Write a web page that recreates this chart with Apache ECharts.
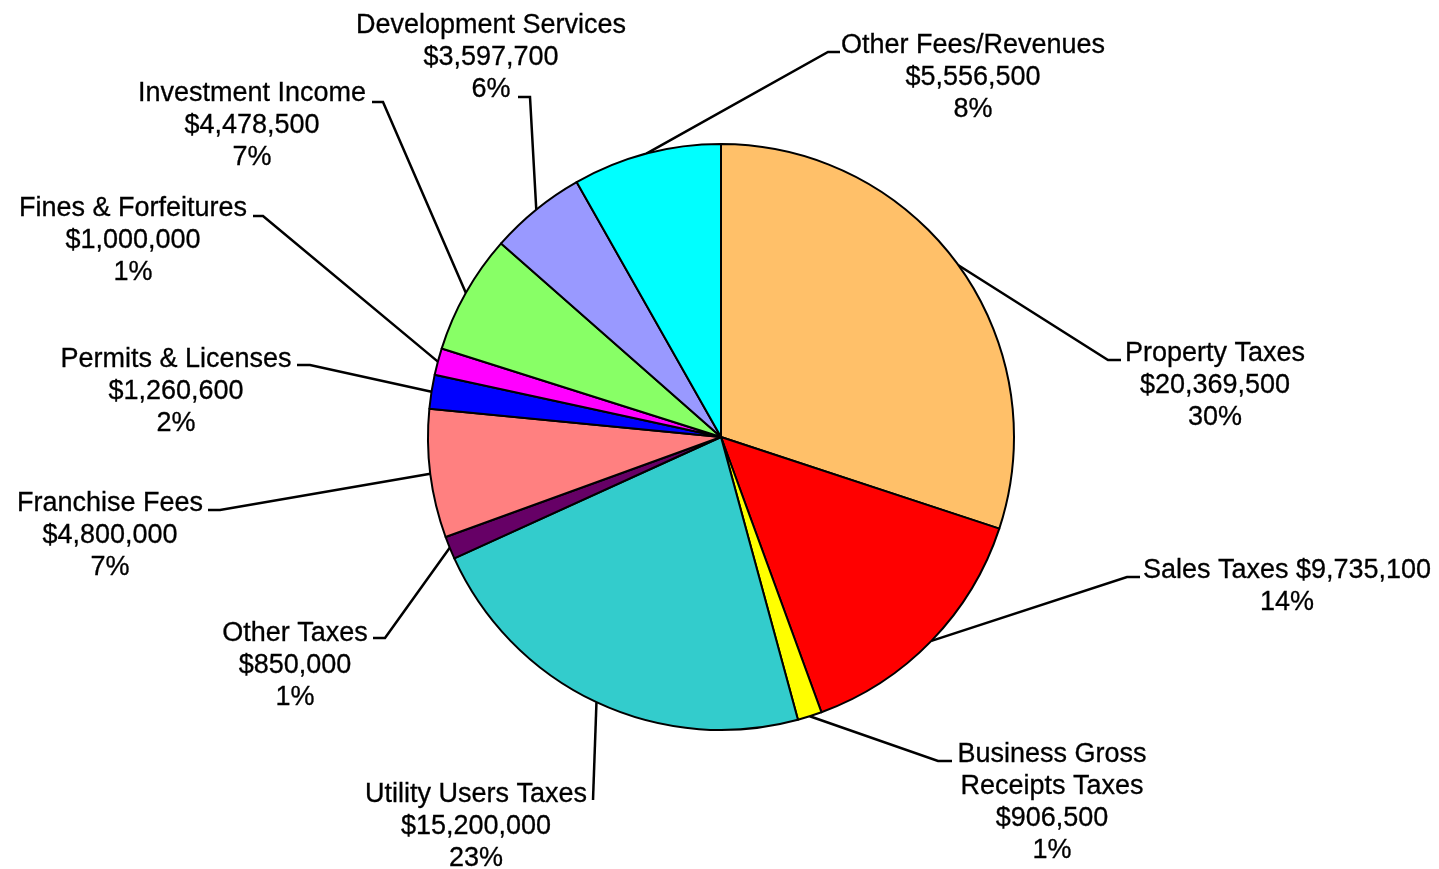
<!DOCTYPE html>
<html>
<head>
<meta charset="utf-8">
<script src="https://cdn.jsdelivr.net/npm/echarts@6/dist/echarts.min.js"></script>
<style>
  html, body { margin: 0; padding: 0; background: #ffffff; }
  #chart { width: 1439px; height: 869px; }
</style>
</head>
<body>
<div id="chart"></div>
<script>
// Revenue sources, clockwise from 12 o'clock
const categories = [
  'Property Taxes',
  'Sales Taxes',
  'Business Gross\nReceipts Taxes',
  'Utility Users Taxes',
  'Other Taxes',
  'Franchise Fees',
  'Permits & Licenses',
  'Fines & Forfeitures',
  'Investment Income',
  'Development Services',
  'Other Fees/Revenues'
];
const amounts = [20369500, 9735100, 906500, 15200000, 850000, 4800000, 1260600, 1000000, 4478500, 3597700, 5556500];
const percentLabels = ['30%', '14%', '1%', '23%', '1%', '7%', '2%', '1%', '7%', '6%', '8%'];

const sliceColors = ['#FFC069', '#FF0000', '#FFFF00', '#33CCCC', '#660066', '#FF8080', '#0000FF', '#FF00FF', '#88FF66', '#9999FF', '#00FFFF'];

// Pie geometry
const PIE_CENTER = [721, 437];
const PIE_RADIUS = 293;

// Label block placement: x = centre of text, y = top of text block,
// (ex, ey) = elbow of the leader line, (ax, ay) = end of the leader line next to the text.
const labelPlacement = [
  { x: 1215, y: 338, ex: 1108, ey: 360, ax: 1121, ay: 360 },
  { x: 1287, y: 555, ex: 1127, ey: 577, ax: 1140, ay: 577, inline: true },
  { x: 1052, y: 739, ex: 938, ey: 761, ax: 952, ay: 761 },
  { x: 476, y: 779, ex: 593, ey: 800, ax: 593, ay: 800 },
  { x: 295, y: 618, ex: 385, ey: 638, ax: 373, ay: 638 },
  { x: 110, y: 488, ex: 220, ey: 510, ax: 208, ay: 510 },
  { x: 176, y: 344, ex: 310, ey: 365, ax: 297, ay: 365 },
  { x: 133, y: 193, ex: 263, ey: 216, ax: 253, ay: 216 },
  { x: 252, y: 78, ex: 383, ey: 102, ax: 372, ay: 102 },
  { x: 491, y: 10, ex: 530, ey: 97, ax: 518, ay: 97 },
  { x: 973, y: 30, ex: 828, ey: 52, ax: 840, ay: 52 }
];

const fmtMoney = v => '$' + v.toLocaleString('en-US');

// Mid-angle of every slice (radians, clockwise from 12 o'clock)
const total = amounts.reduce((a, b) => a + b, 0);
const midAngles = [];
let acc = 0;
amounts.forEach(v => {
  midAngles.push((acc + v / 2) / total * Math.PI * 2);
  acc += v;
});

const seriesData = categories.map((name, i) => ({
  name: name,
  value: amounts[i],
  itemStyle: { color: sliceColors[i] }
}));

const chart = echarts.init(document.getElementById('chart'), null, { renderer: 'canvas' });

chart.setOption({
  backgroundColor: '#ffffff',
  animation: false,
  series: [{
    type: 'pie',
    center: PIE_CENTER,
    radius: PIE_RADIUS,
    startAngle: 90,
    clockwise: true,
    avoidLabelOverlap: false,
    data: seriesData,
    itemStyle: { borderColor: '#000000', borderWidth: 2 },
    emphasis: { disabled: true },
    label: {
      show: true,
      position: 'outside',
      color: '#000000',
      fontFamily: '"Liberation Sans", Arial, sans-serif',
      fontSize: 27,
      lineHeight: 32,
      align: 'center',
      textBorderColor: '#000000',
      textBorderWidth: 0.3,
      formatter: p => {
        const i = p.dataIndex;
        const sep = labelPlacement[i].inline ? ' ' : '\n';
        return categories[i] + sep + fmtMoney(amounts[i]) + '\n' + percentLabels[i];
      }
    },
    labelLine: {
      show: true,
      length: 10,
      length2: 10,
      smooth: false,
      lineStyle: { color: '#000000', width: 2.5 }
    },
    labelLayout: params => {
      const i = params.dataIndex;
      const p = labelPlacement[i];
      const a = midAngles[i];
      const start = (params.labelLinePoints && params.labelLinePoints[0])
        ? params.labelLinePoints[0]
        : [PIE_CENTER[0] + PIE_RADIUS * Math.sin(a), PIE_CENTER[1] - PIE_RADIUS * Math.cos(a)];
      return {
        x: p.x,
        y: p.y,
        align: 'center',
        verticalAlign: 'top',
        labelLinePoints: [start, [p.ex, p.ey], [p.ax, p.ay]]
      };
    }
  }]
});
</script>
</body>
</html>
